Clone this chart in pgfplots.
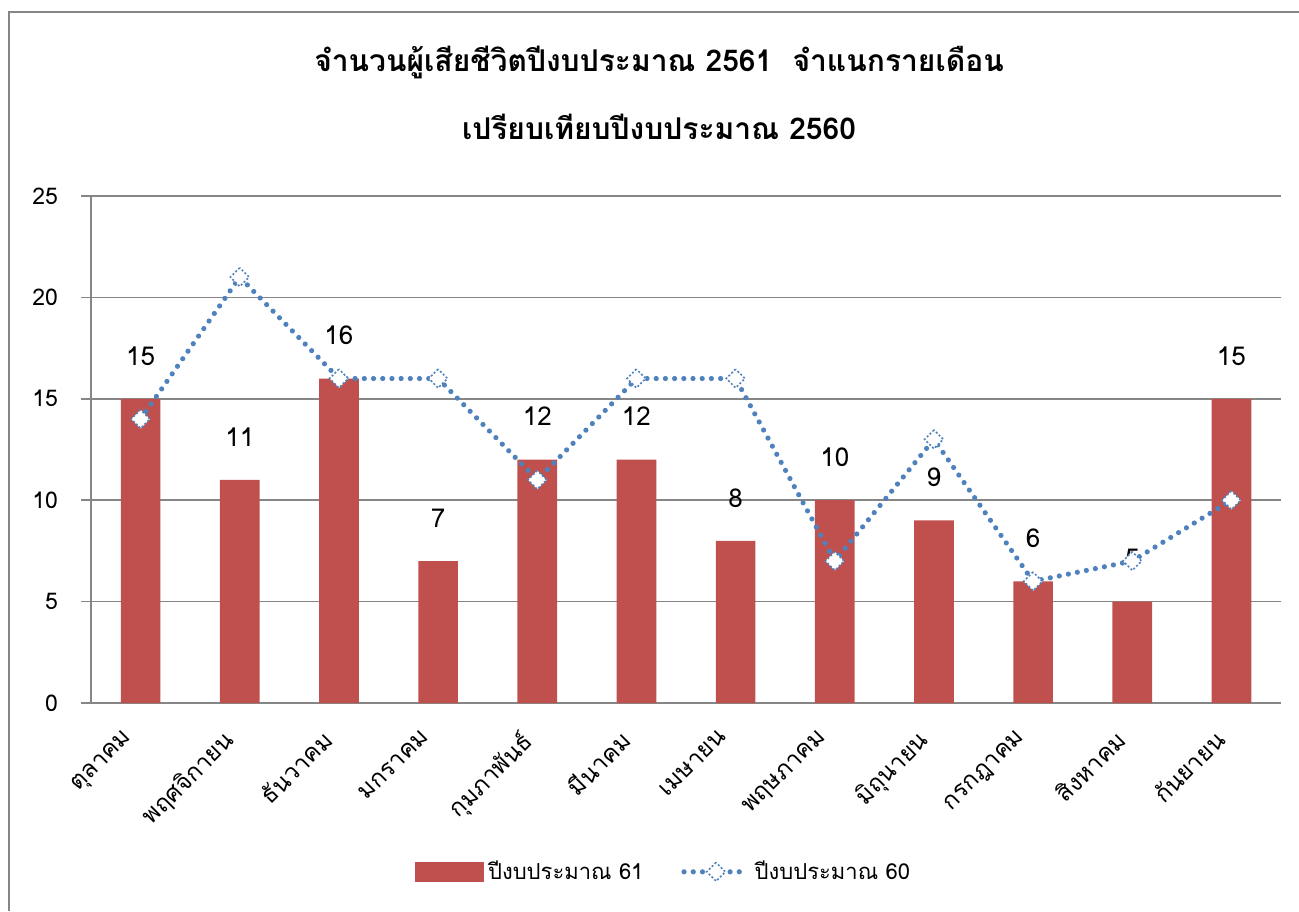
\documentclass[border=0pt]{standalone}
\usepackage{fontspec}
\setmainfont{Loma}[Script=Thai]
\usepackage{pgfplots}
\pgfplotsset{compat=1.18}
\definecolor{barred}{RGB}{192,80,77}
\definecolor{lineblue}{RGB}{79,129,189}
\definecolor{axgray}{RGB}{134,134,134}
\pgfplotsset{
  barlegend/.style={legend image code/.code={\fill[barred] (0pt,-5pt) rectangle (34.5pt,5pt);}},
  linelegend/.style={legend image code/.code={\draw[##1, mark=none] (0pt,0pt) -- (32pt,0pt); \draw[##1, only marks] plot coordinates {(16pt,0pt)};}},
}
\begin{document}
\begin{tikzpicture}
\begin{scope}[x=0.5pt,y=0.5pt]
\useasboundingbox (0,0) rectangle (1299,911);
\draw[axgray, line width=1pt] (9,0) -- (9,899) -- (1299,899);
\node[font=\fontsize{15}{18}\selectfont\bfseries] at (659,849) {จำนวนผู้เสียชีวิตปีงบประมาณ 2561~~จำแนกรายเดือน};
\node[font=\fontsize{15}{18}\selectfont\bfseries] at (659,784) {เปรียบเทียบปีงบประมาณ 2560};
\end{scope}
\begin{axis}[
  at={(45.5pt,104pt)}, anchor=south west,
  scale only axis, width=595pt, height=253.5pt,
  xmin=-0.5, xmax=11.5, ymin=0, ymax=25,
  axis x line=bottom, axis y line=left,
  axis line style={draw=axgray, line width=0.8pt, -},
  ytick={0,5,10,15,20,25},
  ymajorgrids, grid style={axgray, line width=0.8pt},
  tick align=outside, major tick length=5pt,
  tick style={axgray, line width=0.8pt},
  /pgf/number format/assume math mode=true,
  yticklabel style={font=\fontsize{11.5}{13}\selectfont, xshift=-8pt},
  xtick={0,...,11},
  xtick style={draw=none},
  xticklabels={ตุลาคม, พฤศจิกายน, ธันวาคม, มกราคม, กุมภาพันธ์, มีนาคม, เมษายน, พฤษภาคม, มิถุนายน, กรกฎาคม, สิงหาคม, กันยายน},
  xticklabel style={xshift=-9pt, yshift=-6pt, rotate=45, anchor=north east, font=\fontsize{12}{14}\selectfont, inner sep=1pt},
  extra x ticks={-0.5,0.5,...,11.5},
  extra x tick labels={},
  extra x tick style={grid=none, tick style={axgray, line width=0.8pt, draw=axgray}},
  legend style={at={(0.482,-0.333)}, anchor=center, draw=none, legend columns=2,
    font=\fontsize{11}{13}\selectfont,
    /tikz/every even column/.append style={column sep=17pt}},
  legend cell align=left,
]
\addplot[ybar, bar width=0.4, fill=barred, draw=none,
  nodes near coords,
  nodes near coords style={font=\fontsize{13}{15}\selectfont, anchor=center, yshift=21.5pt, text=black},
  barlegend]
  coordinates {(0,15) (1,11) (2,16) (3,7) (4,12) (5,12) (6,8) (7,10) (8,9) (9,6) (10,5) (11,15)};
\addlegendentry{ปีงบประมาณ 61}
\addplot[lineblue, line width=2.6pt, line cap=round, dash pattern=on 0pt off 4.6pt,
  mark=square*, mark size=3.3pt,
  mark options={rotate=45, fill=white, draw=lineblue, line width=0.8pt, line cap=butt, dash pattern=on 1pt off 1pt},
  linelegend]
  coordinates {(0,14) (1,21) (2,16) (3,16) (4,11) (5,16) (6,16) (7,7) (8,13) (9,6) (10,7) (11,10)};
\addlegendentry{ปีงบประมาณ 60}
\end{axis}
\end{tikzpicture}
\end{document}
